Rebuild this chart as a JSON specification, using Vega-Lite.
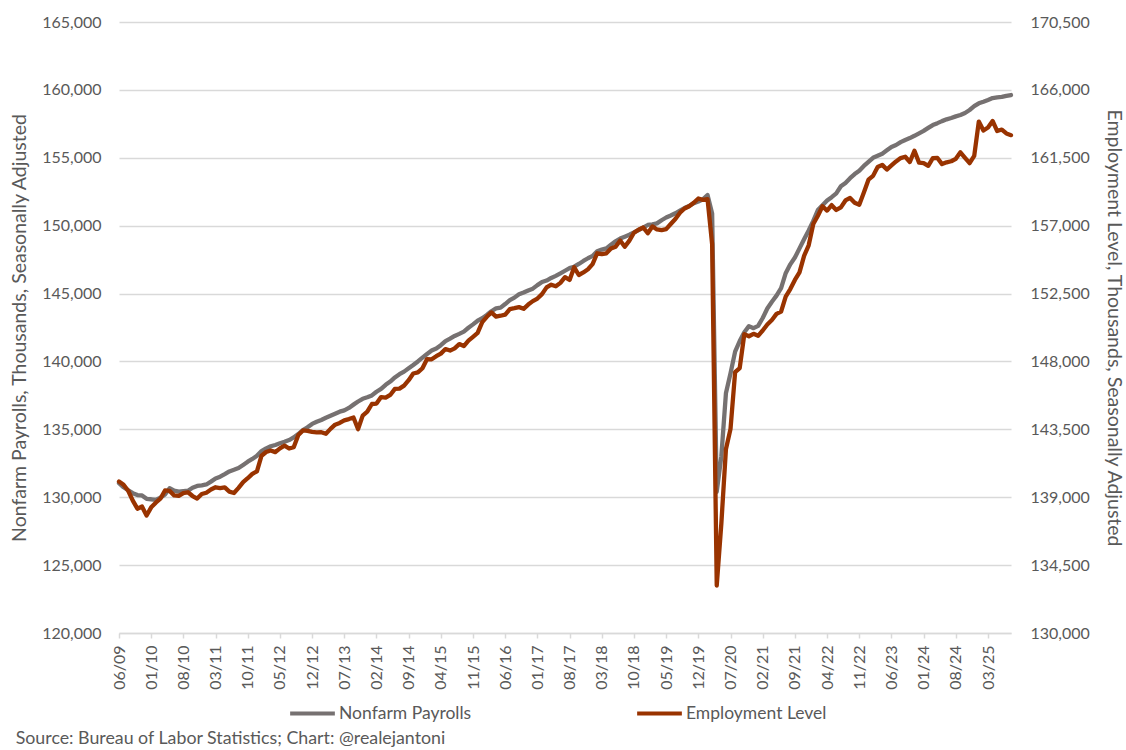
{
  "$schema": "https://vega.github.io/schema/vega-lite/v6.json",
  "width": 892,
  "height": 611,
  "autosize": {"type": "none"},
  "padding": {"left": 119, "top": 22, "right": 115, "bottom": 117},
  "background": "white",
  "config": {
    "font": "Lato",
    "view": {"stroke": null},
    "axis": {"labelFont": "Lato", "titleFont": "Lato", "labelColor": "#595959", "titleColor": "#595959", "labelFontSize": 16, "titleFontSize": 19.5, "titleFontWeight": "normal"},
    "legend": {"labelFont": "Lato"}
  },
  "title": {
    "text": "Source: Bureau of Labor Statistics; Chart: @realejantoni",
    "orient": "bottom",
    "anchor": "start",
    "frame": "bounds",
    "fontSize": 17.8,
    "fontWeight": "normal",
    "font": "Lato",
    "color": "#595959",
    "offset": 8,
    "dx": 6
  },
  "data": {
    "values": [
      {"month": "06/09", "nfp": 131030, "emp": 140040},
      {"month": "07/09", "nfp": 130730, "emp": 139820},
      {"month": "08/09", "nfp": 130510, "emp": 139430},
      {"month": "09/09", "nfp": 130300, "emp": 138770},
      {"month": "10/09", "nfp": 130160, "emp": 138240},
      {"month": "11/09", "nfp": 130130, "emp": 138380},
      {"month": "12/09", "nfp": 129880, "emp": 137790},
      {"month": "01/10", "nfp": 129850, "emp": 138330},
      {"month": "02/10", "nfp": 129800, "emp": 138640},
      {"month": "03/10", "nfp": 129960, "emp": 138900},
      {"month": "04/10", "nfp": 130200, "emp": 139450},
      {"month": "05/10", "nfp": 130660, "emp": 139420},
      {"month": "06/10", "nfp": 130480, "emp": 139120},
      {"month": "07/10", "nfp": 130410, "emp": 139090},
      {"month": "08/10", "nfp": 130450, "emp": 139270},
      {"month": "09/10", "nfp": 130480, "emp": 139330},
      {"month": "10/10", "nfp": 130700, "emp": 139080},
      {"month": "11/10", "nfp": 130830, "emp": 138910},
      {"month": "12/10", "nfp": 130880, "emp": 139210},
      {"month": "01/11", "nfp": 130940, "emp": 139300},
      {"month": "02/11", "nfp": 131150, "emp": 139510},
      {"month": "03/11", "nfp": 131380, "emp": 139660},
      {"month": "04/11", "nfp": 131510, "emp": 139610},
      {"month": "05/11", "nfp": 131700, "emp": 139650},
      {"month": "06/11", "nfp": 131900, "emp": 139370},
      {"month": "07/11", "nfp": 132020, "emp": 139280},
      {"month": "08/11", "nfp": 132150, "emp": 139620},
      {"month": "09/11", "nfp": 132380, "emp": 140000},
      {"month": "10/11", "nfp": 132620, "emp": 140260},
      {"month": "11/11", "nfp": 132820, "emp": 140550},
      {"month": "12/11", "nfp": 133050, "emp": 140720},
      {"month": "01/12", "nfp": 133400, "emp": 141750},
      {"month": "02/12", "nfp": 133600, "emp": 142000},
      {"month": "03/12", "nfp": 133750, "emp": 142100},
      {"month": "04/12", "nfp": 133850, "emp": 141990},
      {"month": "05/12", "nfp": 133970, "emp": 142240},
      {"month": "06/12", "nfp": 134080, "emp": 142420},
      {"month": "07/12", "nfp": 134210, "emp": 142230},
      {"month": "08/12", "nfp": 134400, "emp": 142310},
      {"month": "09/12", "nfp": 134650, "emp": 143120},
      {"month": "10/12", "nfp": 134950, "emp": 143430},
      {"month": "11/12", "nfp": 135150, "emp": 143400},
      {"month": "12/12", "nfp": 135400, "emp": 143330},
      {"month": "01/13", "nfp": 135560, "emp": 143300},
      {"month": "02/13", "nfp": 135690, "emp": 143310},
      {"month": "03/13", "nfp": 135850, "emp": 143210},
      {"month": "04/13", "nfp": 136000, "emp": 143530},
      {"month": "05/13", "nfp": 136150, "emp": 143810},
      {"month": "06/13", "nfp": 136300, "emp": 143920},
      {"month": "07/13", "nfp": 136400, "emp": 144090},
      {"month": "08/13", "nfp": 136580, "emp": 144180},
      {"month": "09/13", "nfp": 136820, "emp": 144280},
      {"month": "10/13", "nfp": 137050, "emp": 143510},
      {"month": "11/13", "nfp": 137250, "emp": 144410},
      {"month": "12/13", "nfp": 137360, "emp": 144670},
      {"month": "01/14", "nfp": 137500, "emp": 145180},
      {"month": "02/14", "nfp": 137770, "emp": 145210},
      {"month": "03/14", "nfp": 137980, "emp": 145640},
      {"month": "04/14", "nfp": 138280, "emp": 145600},
      {"month": "05/14", "nfp": 138520, "emp": 145780},
      {"month": "06/14", "nfp": 138820, "emp": 146180},
      {"month": "07/14", "nfp": 139060, "emp": 146200},
      {"month": "08/14", "nfp": 139250, "emp": 146400},
      {"month": "09/14", "nfp": 139500, "emp": 146760},
      {"month": "10/14", "nfp": 139740, "emp": 147200},
      {"month": "11/14", "nfp": 140000, "emp": 147270},
      {"month": "12/14", "nfp": 140280, "emp": 147550},
      {"month": "01/15", "nfp": 140550, "emp": 148160},
      {"month": "02/15", "nfp": 140800, "emp": 148140},
      {"month": "03/15", "nfp": 140950, "emp": 148350},
      {"month": "04/15", "nfp": 141200, "emp": 148520},
      {"month": "05/15", "nfp": 141500, "emp": 148820},
      {"month": "06/15", "nfp": 141680, "emp": 148720},
      {"month": "07/15", "nfp": 141880, "emp": 148870},
      {"month": "08/15", "nfp": 142030, "emp": 149150},
      {"month": "09/15", "nfp": 142200, "emp": 149020},
      {"month": "10/15", "nfp": 142480, "emp": 149380},
      {"month": "11/15", "nfp": 142730, "emp": 149630},
      {"month": "12/15", "nfp": 143000, "emp": 149890},
      {"month": "01/16", "nfp": 143180, "emp": 150610},
      {"month": "02/16", "nfp": 143420, "emp": 150960},
      {"month": "03/16", "nfp": 143700, "emp": 151250},
      {"month": "04/16", "nfp": 143910, "emp": 150970},
      {"month": "05/16", "nfp": 143960, "emp": 151030},
      {"month": "06/16", "nfp": 144230, "emp": 151100},
      {"month": "07/16", "nfp": 144520, "emp": 151470},
      {"month": "08/16", "nfp": 144700, "emp": 151530},
      {"month": "09/16", "nfp": 144950, "emp": 151600},
      {"month": "10/16", "nfp": 145080, "emp": 151490},
      {"month": "11/16", "nfp": 145230, "emp": 151770},
      {"month": "12/16", "nfp": 145360, "emp": 152000},
      {"month": "01/17", "nfp": 145620, "emp": 152170},
      {"month": "02/17", "nfp": 145850, "emp": 152460},
      {"month": "03/17", "nfp": 145960, "emp": 152910},
      {"month": "04/17", "nfp": 146150, "emp": 153090},
      {"month": "05/17", "nfp": 146300, "emp": 152980},
      {"month": "06/17", "nfp": 146480, "emp": 153210},
      {"month": "07/17", "nfp": 146680, "emp": 153590},
      {"month": "08/17", "nfp": 146870, "emp": 153400},
      {"month": "09/17", "nfp": 146980, "emp": 154240},
      {"month": "10/17", "nfp": 147180, "emp": 153730},
      {"month": "11/17", "nfp": 147400, "emp": 153900},
      {"month": "12/17", "nfp": 147600, "emp": 154110},
      {"month": "01/18", "nfp": 147770, "emp": 154450},
      {"month": "02/18", "nfp": 148120, "emp": 155170},
      {"month": "03/18", "nfp": 148240, "emp": 155110},
      {"month": "04/18", "nfp": 148330, "emp": 155170},
      {"month": "05/18", "nfp": 148600, "emp": 155480},
      {"month": "06/18", "nfp": 148850, "emp": 155600},
      {"month": "07/18", "nfp": 149050, "emp": 156020},
      {"month": "08/18", "nfp": 149190, "emp": 155600},
      {"month": "09/18", "nfp": 149330, "emp": 156010},
      {"month": "10/18", "nfp": 149500, "emp": 156530},
      {"month": "11/18", "nfp": 149680, "emp": 156730},
      {"month": "12/18", "nfp": 149850, "emp": 156880},
      {"month": "01/19", "nfp": 150050, "emp": 156500},
      {"month": "02/19", "nfp": 150100, "emp": 156950},
      {"month": "03/19", "nfp": 150170, "emp": 156750},
      {"month": "04/19", "nfp": 150400, "emp": 156700},
      {"month": "05/19", "nfp": 150600, "emp": 156770},
      {"month": "06/19", "nfp": 150750, "emp": 157110},
      {"month": "07/19", "nfp": 150910, "emp": 157440},
      {"month": "08/19", "nfp": 151100, "emp": 157860},
      {"month": "09/19", "nfp": 151300, "emp": 158140},
      {"month": "10/19", "nfp": 151450, "emp": 158290},
      {"month": "11/19", "nfp": 151650, "emp": 158520},
      {"month": "12/19", "nfp": 151780, "emp": 158800},
      {"month": "01/20", "nfp": 151940, "emp": 158710},
      {"month": "02/20", "nfp": 152260, "emp": 158760},
      {"month": "03/20", "nfp": 150900, "emp": 155770},
      {"month": "04/20", "nfp": 130400, "emp": 133150},
      {"month": "05/20", "nfp": 133000, "emp": 137240},
      {"month": "06/20", "nfp": 137650, "emp": 142180},
      {"month": "07/20", "nfp": 139130, "emp": 143530},
      {"month": "08/20", "nfp": 140720, "emp": 147290},
      {"month": "09/20", "nfp": 141500, "emp": 147560},
      {"month": "10/20", "nfp": 142150, "emp": 149810},
      {"month": "11/20", "nfp": 142600, "emp": 149670},
      {"month": "12/20", "nfp": 142450, "emp": 149830},
      {"month": "01/21", "nfp": 142620, "emp": 149700},
      {"month": "02/21", "nfp": 143200, "emp": 150050},
      {"month": "03/21", "nfp": 143900, "emp": 150450},
      {"month": "04/21", "nfp": 144400, "emp": 150750},
      {"month": "05/21", "nfp": 144850, "emp": 151150},
      {"month": "06/21", "nfp": 145400, "emp": 151300},
      {"month": "07/21", "nfp": 146500, "emp": 152300},
      {"month": "08/21", "nfp": 147150, "emp": 152800},
      {"month": "09/21", "nfp": 147650, "emp": 153400},
      {"month": "10/21", "nfp": 148330, "emp": 153900},
      {"month": "11/21", "nfp": 149000, "emp": 155000},
      {"month": "12/21", "nfp": 149650, "emp": 155700},
      {"month": "01/22", "nfp": 150350, "emp": 157110},
      {"month": "02/22", "nfp": 151150, "emp": 157660},
      {"month": "03/22", "nfp": 151500, "emp": 158290},
      {"month": "04/22", "nfp": 151850, "emp": 158000},
      {"month": "05/22", "nfp": 152100, "emp": 158360},
      {"month": "06/22", "nfp": 152380, "emp": 158040},
      {"month": "07/22", "nfp": 152900, "emp": 158210},
      {"month": "08/22", "nfp": 153150, "emp": 158670},
      {"month": "09/22", "nfp": 153500, "emp": 158840},
      {"month": "10/22", "nfp": 153800, "emp": 158520},
      {"month": "11/22", "nfp": 154050, "emp": 158390},
      {"month": "12/22", "nfp": 154400, "emp": 159200},
      {"month": "01/23", "nfp": 154700, "emp": 160050},
      {"month": "02/23", "nfp": 155000, "emp": 160300},
      {"month": "03/23", "nfp": 155150, "emp": 160890},
      {"month": "04/23", "nfp": 155300, "emp": 161030},
      {"month": "05/23", "nfp": 155550, "emp": 160720},
      {"month": "06/23", "nfp": 155800, "emp": 160990},
      {"month": "07/23", "nfp": 155940, "emp": 161260},
      {"month": "08/23", "nfp": 156150, "emp": 161480},
      {"month": "09/23", "nfp": 156310, "emp": 161570},
      {"month": "10/23", "nfp": 156450, "emp": 161220},
      {"month": "11/23", "nfp": 156620, "emp": 161970},
      {"month": "12/23", "nfp": 156800, "emp": 161180},
      {"month": "01/24", "nfp": 156980, "emp": 161150},
      {"month": "02/24", "nfp": 157200, "emp": 160970},
      {"month": "03/24", "nfp": 157410, "emp": 161470},
      {"month": "04/24", "nfp": 157550, "emp": 161490},
      {"month": "05/24", "nfp": 157700, "emp": 161080},
      {"month": "06/24", "nfp": 157830, "emp": 161200},
      {"month": "07/24", "nfp": 157930, "emp": 161270},
      {"month": "08/24", "nfp": 158050, "emp": 161430},
      {"month": "09/24", "nfp": 158150, "emp": 161860},
      {"month": "10/24", "nfp": 158300, "emp": 161500},
      {"month": "11/24", "nfp": 158520, "emp": 161140},
      {"month": "12/24", "nfp": 158800, "emp": 161620},
      {"month": "01/25", "nfp": 159010, "emp": 163900},
      {"month": "02/25", "nfp": 159130, "emp": 163310},
      {"month": "03/25", "nfp": 159260, "emp": 163510},
      {"month": "04/25", "nfp": 159400, "emp": 163940},
      {"month": "05/25", "nfp": 159450, "emp": 163270},
      {"month": "06/25", "nfp": 159480, "emp": 163370},
      {"month": "07/25", "nfp": 159560, "emp": 163110},
      {"month": "08/25", "nfp": 159620, "emp": 163000}
    ]
  },
  "encoding": {
    "x": {
      "field": "month",
      "type": "ordinal",
      "sort": null,
      "scale": {"type": "point", "padding": 0},
      "axis": {
        "title": null,
        "values": ["06/09", "01/10", "08/10", "03/11", "10/11", "05/12", "12/12", "07/13", "02/14", "09/14", "04/15", "11/15", "06/16", "01/17", "08/17", "03/18", "10/18", "05/19", "12/19", "07/20", "02/21", "09/21", "04/22", "11/22", "06/23", "01/24", "08/24", "03/25"],
        "labelAngle": -90,
        "labelOverlap": false,
        "domainColor": "#d9d9d9",
        "domainWidth": 1.5,
        "tickColor": "#d9d9d9",
        "tickWidth": 1.5,
        "tickSize": 5,
        "labelPadding": 7,
        "grid": false
      }
    }
  },
  "layer": [
    {
      "mark": {"type": "line", "strokeWidth": 4.3, "strokeJoin": "round", "strokeCap": "round"},
      "encoding": {
        "y": {
          "field": "nfp",
          "type": "quantitative",
          "scale": {"domain": [120000, 165000], "nice": false, "zero": false},
          "axis": {
            "title": "Nonfarm Payrolls, Thousands, Seasonally Adjusted",
            "values": [120000, 125000, 130000, 135000, 140000, 145000, 150000, 155000, 160000, 165000],
            "format": ",d",
            "grid": true,
            "gridColor": "#d9d9d9",
            "gridWidth": 1.5,
            "domain": false,
            "ticks": false,
            "labelPadding": 18,
            "titlePadding": 12
          }
        },
        "color": {
          "datum": "Nonfarm Payrolls",
          "type": "nominal",
          "scale": {"domain": ["Nonfarm Payrolls", "Employment Level"], "range": ["#767171", "#993300"]},
          "legend": {
            "title": null,
            "orient": "none",
            "legendX": 169,
            "legendY": 667,
            "direction": "horizontal",
            "symbolType": "stroke",
            "symbolStrokeWidth": 4,
            "symbolSize": 2000,
            "labelFontSize": 17.5,
            "labelColor": "#595959",
            "labelOffset": 2,
            "columnPadding": 157,
            "padding": 0
          }
        }
      }
    },
    {
      "mark": {"type": "line", "strokeWidth": 4.3, "strokeJoin": "round", "strokeCap": "round"},
      "encoding": {
        "y": {
          "field": "emp",
          "type": "quantitative",
          "scale": {"domain": [130000, 170500], "nice": false, "zero": false},
          "axis": {
            "orient": "right",
            "title": "Employment Level, Thousands, Seasonally Adjusted",
            "values": [130000, 134500, 139000, 143500, 148000, 152500, 157000, 161500, 166000, 170500],
            "format": ",d",
            "grid": false,
            "domain": false,
            "ticks": false,
            "labelPadding": 19,
            "titlePadding": 14
          }
        },
        "color": {"datum": "Employment Level", "type": "nominal"}
      }
    }
  ],
  "resolve": {"scale": {"y": "independent"}}
}
